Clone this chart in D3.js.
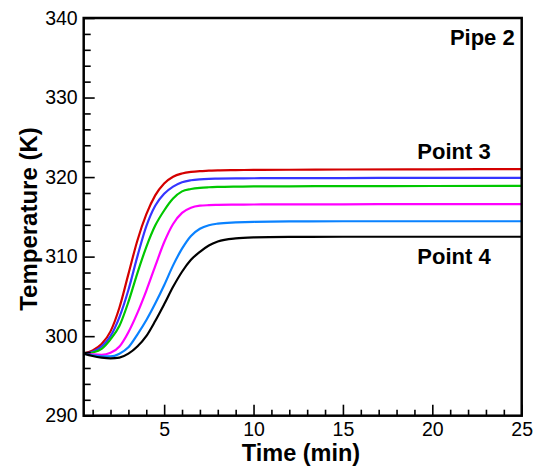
<!DOCTYPE html>
<html>
<head>
<meta charset="utf-8">
<script src="https://cdn.jsdelivr.net/npm/d3@7"></script>
<style>
  html, body { margin: 0; padding: 0; background: #fff; }
  text { font-family: "Liberation Sans", Arial, Helvetica, sans-serif; }
</style>
</head>
<body>
<svg id="chart" width="537" height="466"></svg>
<script>
// ---- data ----
const times = [0.5, 1, 1.5, 2, 2.5, 3, 3.5, 4, 4.5, 5, 5.5, 6, 6.5, 7, 7.5, 8, 9, 10, 12, 15, 20, 25];
const red     = [297.8, 298.2, 299.0, 300.6, 303.6, 307.8, 312.0, 315.3, 317.7, 319.2, 320.05, 320.45, 320.65, 320.75, 320.8, 320.85, 320.88, 320.9, 320.92, 320.95, 320.98, 321.0];
const blue    = [297.8, 298.05, 298.7, 300.0, 302.4, 305.8, 310.0, 313.8, 316.4, 317.9, 318.8, 319.35, 319.6, 319.72, 319.78, 319.8, 319.83, 319.85, 319.87, 319.88, 319.9, 319.9];
const green   = [297.8, 297.95, 298.4, 299.6, 301.3, 304.3, 307.9, 311.2, 313.9, 315.8, 317.3, 318.2, 318.5, 318.65, 318.72, 318.76, 318.8, 318.82, 318.84, 318.86, 318.88, 318.9];
const magenta = [297.8, 297.7, 297.65, 297.9, 298.7, 300.5, 302.9, 305.7, 308.8, 311.8, 314.1, 315.5, 316.15, 316.4, 316.47, 316.5, 316.53, 316.55, 316.57, 316.58, 316.6, 316.6];
const skyblue = [297.8, 297.6, 297.45, 297.45, 297.8, 298.6, 300.2, 302.0, 304.1, 306.4, 308.9, 311.0, 312.6, 313.5, 313.95, 314.15, 314.3, 314.38, 314.42, 314.45, 314.45, 314.45];
const black   = [297.8, 297.5, 297.3, 297.2, 297.3, 297.8, 298.7, 300.0, 301.9, 304.0, 306.2, 308.1, 309.6, 310.6, 311.4, 311.9, 312.3, 312.42, 312.48, 312.5, 312.5, 312.5];

const seriesNames  = ["red", "blue", "green", "magenta", "skyblue", "black"];
const seriesValues = [red, blue, green, magenta, skyblue, black];
const seriesColors = ["#d40000", "#3535ff", "#00c800", "#ff00ff", "#0a82ff", "#000000"];

const xMajorTicks = [5, 10, 15, 20, 25];
const xMinorTicks = d3.range(1, 25).filter(v => v % 5 !== 0);
const yMajorTicks = [290, 300, 310, 320, 330, 340];
const yMinorTicks = d3.range(292, 340, 2).filter(v => v % 10 !== 0);

const xTitle = "Time (min)";
const yTitle = "Temperature (K)";
const annotations = [
  {text: "Pipe 2", t: 25, T: 340},
  {text: "Point 3", t: 25, T: 321},
  {text: "Point 4", t: 25, T: 312.5}
];

// ---- layout ----
const L = 83.7, R = 521.7, T0 = 18, B = 415.7;
const svg = d3.select("#chart");
const x = d3.scaleLinear().domain([0.5, 25]).range([L, R]);
const y = d3.scaleLinear().domain([290, 340]).range([B, T0]);

// lines
const line = d3.line().x((d, i) => x(times[i])).y(d => y(d)).curve(d3.curveMonotoneX);
const plot = svg.append("g");
plot.append("clipPath").attr("id", "clip").append("rect")
  .attr("x", L).attr("y", T0).attr("width", R - L).attr("height", B - T0);
seriesValues.forEach((vals, k) => {
  plot.append("path")
    .datum(vals)
    .attr("clip-path", "url(#clip)")
    .attr("fill", "none")
    .attr("stroke", seriesColors[k])
    .attr("stroke-width", 2.2)
    .attr("d", line);
});

// axes
function styleAxis(g) {
  g.select(".domain").remove();
  g.selectAll(".tick line").attr("stroke", "#000").attr("stroke-width", 1.6);
  g.selectAll("text").attr("fill", "#000").attr("font-size", 19.5).attr("font-family", "'Liberation Sans', Arial, sans-serif");
}
svg.append("g").attr("transform", `translate(0,${B})`)
  .call(d3.axisBottom(x).tickValues(xMinorTicks).tickSize(-6).tickFormat(""))
  .call(styleAxis);
svg.append("g").attr("transform", `translate(0,${B})`)
  .call(d3.axisBottom(x).tickValues(xMajorTicks).tickSize(-11).tickPadding(6.5).tickFormat(d3.format("d")))
  .call(styleAxis);
svg.append("g").attr("transform", `translate(${L},0)`)
  .call(d3.axisLeft(y).tickValues(yMinorTicks).tickSize(-7).tickFormat(""))
  .call(styleAxis);
svg.append("g").attr("transform", `translate(${L},0)`)
  .call(d3.axisLeft(y).tickValues(yMajorTicks).tickSize(-11).tickPadding(6).tickFormat(d3.format("d")))
  .call(styleAxis);

// frame
svg.append("rect").attr("x", L).attr("y", T0).attr("width", R - L).attr("height", B - T0)
  .attr("fill", "none").attr("stroke", "#000").attr("stroke-width", 2.5);

// titles
svg.append("text").attr("x", 301).attr("y", 460.5).attr("text-anchor", "middle")
  .attr("font-size", 23.5).attr("font-weight", "bold").text(xTitle);
svg.append("text").attr("transform", "translate(36.5,219) rotate(-90)").attr("text-anchor", "middle")
  .attr("font-size", 24).attr("font-weight", "bold").text(yTitle);

// annotations
const annPos = [{dx: -7, dy: 27}, {dx: -31, dy: -10}, {dx: -31, dy: 27}];
annotations.forEach((a, i) => {
  svg.append("text")
    .attr("x", x(a.t) + annPos[i].dx).attr("y", y(a.T) + annPos[i].dy)
    .attr("text-anchor", "end").attr("font-size", 22).attr("font-weight", "bold")
    .text(a.text);
});
</script>
</body>
</html>
